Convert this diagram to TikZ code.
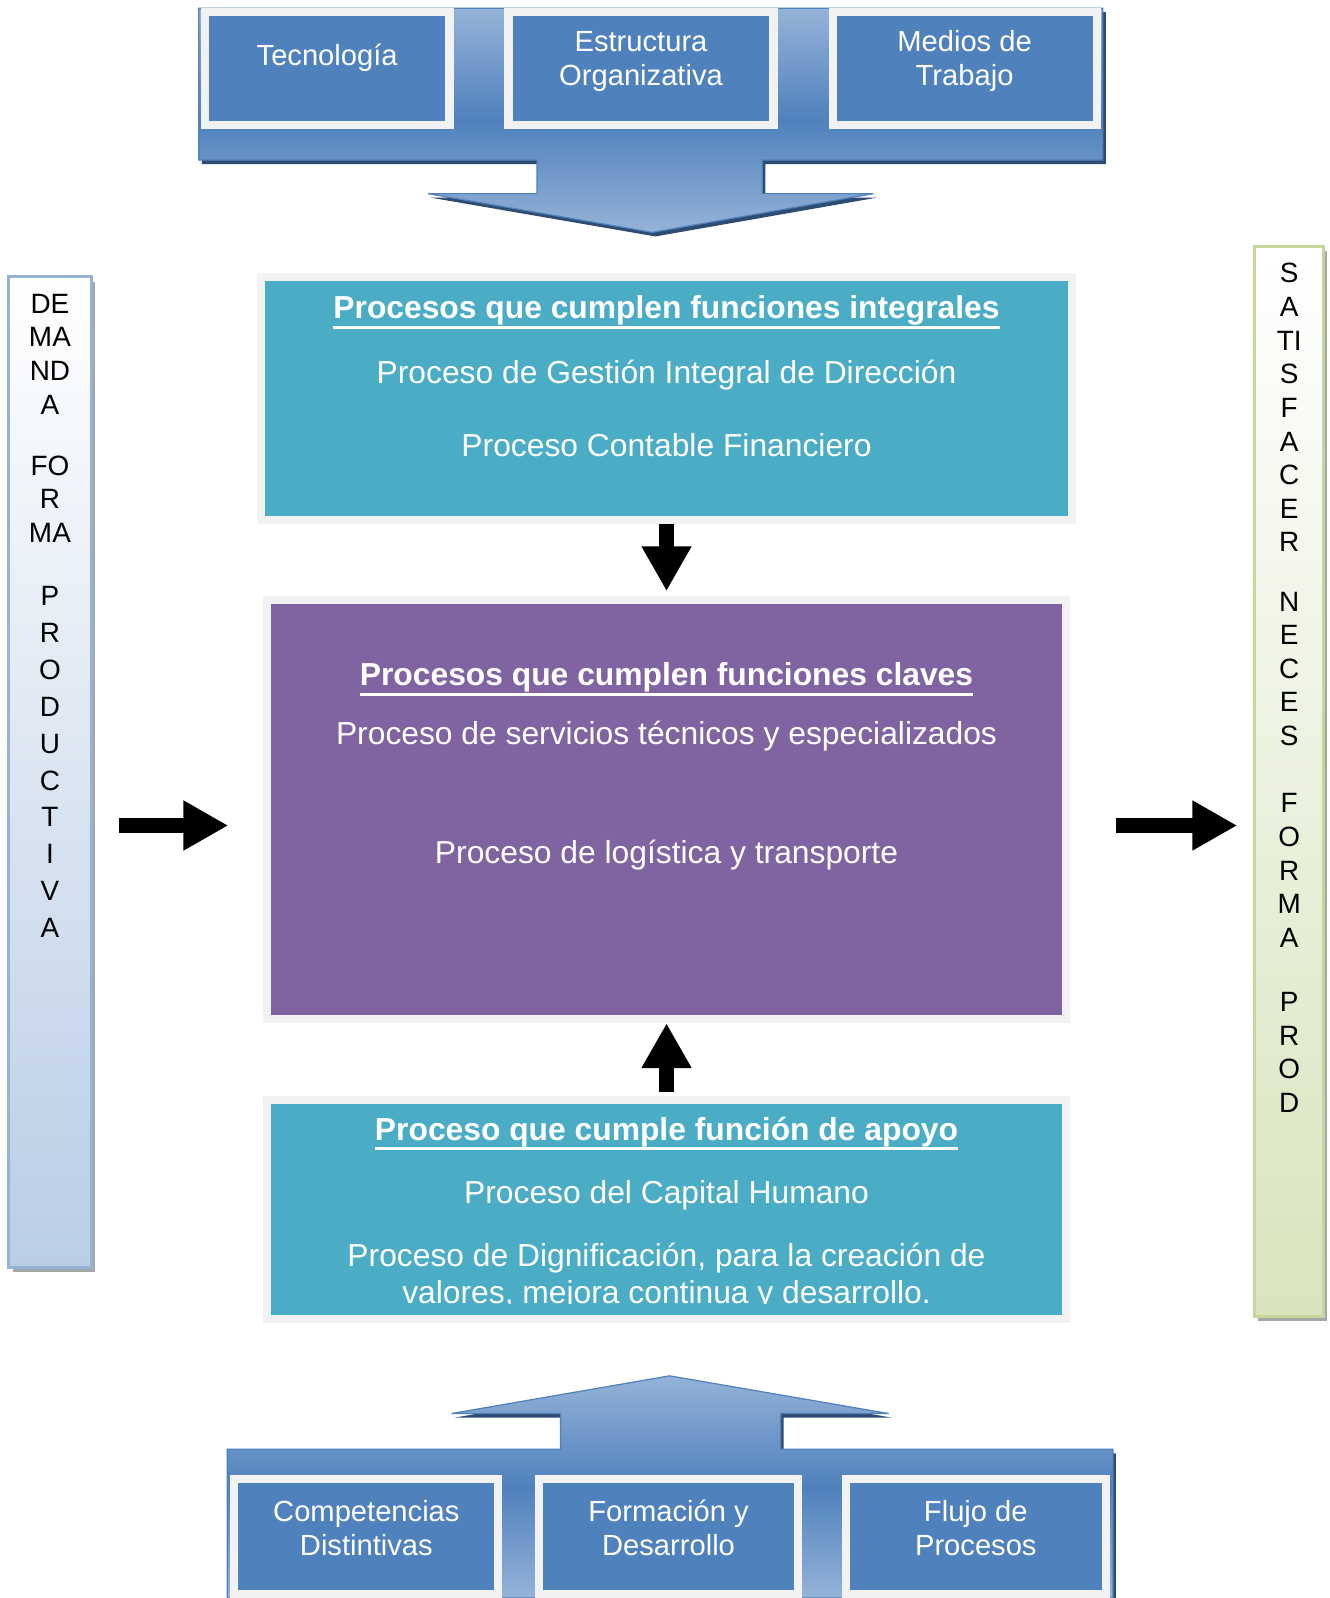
\documentclass[tikz,border=0pt]{standalone}
\usepackage{fontspec}
\setmainfont{Liberation Sans}
\usetikzlibrary{arrows.meta,shadows}

\definecolor{tealbox}{HTML}{4BACC6}
\definecolor{purplebox}{HTML}{8064A2}
\definecolor{bluebox}{HTML}{4F81BD}
\definecolor{bluelight}{HTML}{95B3D7}
\definecolor{bluedark}{HTML}{2E4C72}
\definecolor{framegray}{HTML}{F2F2F2}
\definecolor{barblue}{HTML}{B9CDE5}
\definecolor{barblueline}{HTML}{95B3D7}
\definecolor{bargreen}{HTML}{D7E4BD}
\definecolor{bargreenline}{HTML}{C3D69B}

% underline set a little below the descenders
\newcommand\headul[1]{\setbox0\hbox{#1}%
  \rlap{\rule[-\dimexpr\dp0+1.6pt\relax]{\wd0}{1.4pt}}\box0}

\begin{document}
\begin{tikzpicture}[
  x=0.5pt,y=-0.5pt,
  every node/.style={inner sep=0pt},
  process/.style={fill=#1,draw=framegray,line width=4pt,
    drop shadow={shadow xshift=1pt,shadow yshift=-2pt,fill=black,opacity=.4}},
  factor/.style={fill=bluebox,draw=framegray,line width=4pt,
    drop shadow={shadow xshift=1pt,shadow yshift=-2pt,fill=bluedark,opacity=1}},
  sidebar/.style={line width=1.5pt,
    drop shadow={shadow xshift=2pt,shadow yshift=-2.5pt,fill=black,opacity=.35}},
  head/.style={text=white,anchor=base,font=\fontsize{15.6}{18}\selectfont\bfseries},
  procline/.style={text=white,anchor=base,font=\fontsize{15.6}{18}\selectfont},
  factor text/.style={text=white,align=center,font=\fontsize{14.3}{16.5}\selectfont},
  bar text/.style={anchor=north,align=center,font=\fontsize{13.7}{16.5}\selectfont},
  block arrow/.style={line width=7.5pt,-{Triangle[width=23pt,length=22pt]}}
]
  \fill[white] (0,0) rectangle (1305,1568);
  \useasboundingbox (0,0) rectangle (1305,1568);

  % factors on top, pointing down
  \fill[bluedark,shift={(3,4)}] (195,8) -- (1082,8) -- (1082,157) -- (748,157)
    -- (748,190) -- (857,190) -- (640,228) -- (420,190) -- (527,190)
    -- (527,157) -- (195,157) -- cycle;
  \shadedraw[draw=bluebox,line width=.6pt,top color=bluelight,bottom color=bluelight,
    middle color=bluebox] (195,8) -- (1082,8) -- (1082,157) -- (748,157)
    -- (748,190) -- (857,190) -- (640,228) -- (420,190) -- (527,190)
    -- (527,157) -- (195,157) -- cycle;

  \node[factor,minimum width=120pt,minimum height=55.5pt] (tec) at (321,67.5) {};
  \node[factor,minimum width=130pt,minimum height=55.5pt] (estr) at (629,67.5) {};
  \node[factor,minimum width=129.5pt,minimum height=55.5pt] (medios) at (946.5,67.5) {};
  \node[factor text] (tec-t) at ([yshift=5.5pt]tec.center) {Tecnología};
  \node[factor text] (estr-t) at ([yshift=3.7pt]estr.center) {Estructura\\Organizativa};
  \node[factor text] (medios-t) at ([yshift=3.7pt]medios.center) {Medios de\\Trabajo};

  % factors at the bottom, pointing up
  \fill[bluedark,shift={(3,4)}] (657,1350) -- (872,1387) -- (766,1387) -- (766,1422)
    -- (1092,1422) -- (1092,1568) -- (223,1568) -- (223,1422) -- (550,1422)
    -- (550,1387) -- (443,1387) -- cycle;
  \shadedraw[draw=bluebox,line width=.6pt,top color=bluelight,bottom color=bluelight,
    middle color=bluebox] (657,1350) -- (872,1387) -- (766,1387) -- (766,1422)
    -- (1092,1422) -- (1092,1568) -- (223,1568) -- (223,1422) -- (550,1422)
    -- (550,1387) -- (443,1387) -- cycle;

  \node[factor,minimum width=129.5pt,minimum height=56.5pt] (comp) at (359.5,1507.5) {};
  \node[factor,minimum width=127pt,minimum height=56.5pt] (form) at (656,1507.5) {};
  \node[factor,minimum width=127.5pt,minimum height=56.5pt] (flujo) at (957.5,1507.5) {};
  \node[factor text] (comp-t) at ([yshift=4pt]comp.center) {Competencias\\Distintivas};
  \node[factor text] (form-t) at ([yshift=4pt]form.center) {Formación y\\Desarrollo};
  \node[factor text] (flujo-t) at ([yshift=4pt]flujo.center) {Flujo de\\Procesos};

  % the three groups of processes
  \node[process=tealbox,minimum width=398pt,minimum height=119pt] (integ) at (654,391) {};
  \node[process=purplebox,minimum width=392pt,minimum height=205.5pt] (claves) at (654,794.5) {};
  \node[process=tealbox,minimum width=392pt,minimum height=107.5pt] (apoyo) at (654,1186.5) {};

  \node[head] (integ-h) at (654,313) {\headul{Procesos que cumplen funciones integrales}};
  \node[procline] (integ-1) at (654,376) {Proceso de Gestión Integral de Dirección};
  \node[procline] (integ-2) at (654,448) {Proceso Contable Financiero};

  \node[head] (claves-h) at (654,673) {\headul{Procesos que cumplen funciones claves}};
  \node[procline] (claves-1) at (654,731) {Proceso de servicios técnicos y especializados};
  \node[procline] (claves-2) at (654,847) {Proceso de logística y transporte};

  \node[head] (apoyo-h) at (654,1119) {\headul{Proceso que cumple función de apoyo}};
  \node[procline] (apoyo-1) at (654,1181) {Proceso del Capital Humano};
  \begin{scope}
    \clip (262,1079) rectangle (1046,1279.5);
    \node[procline] (apoyo-2) at (654,1243) {Proceso de Dignificación, para la creación de};
    \node[procline] (apoyo-3) at (654,1279) {valores, mejora continua y desarrollo.};
  \end{scope}

  % demand and satisfaction bars
  \node[sidebar,draw=barblueline,top color=white,bottom color=barblue,
    minimum width=40.5pt,minimum height=486pt] (demanda) at (49,757.5) {};
  \node[sidebar,draw=bargreenline,top color=white,bottom color=bargreen,
    minimum width=34pt,minimum height=525pt] (satisf) at (1264.5,766.5) {};

  \node[bar text] (demanda-t) at (49,288)
    {DE\\MA\\ND\\A\\[13.5pt]FO\\R\\MA\\[14.5pt]P\\[1.6pt]R\\[1.6pt]O\\[1.6pt]D\\[1.6pt]U%
     \\[1.6pt]C\\[1.6pt]T\\[1.6pt]I\\[1.6pt]V\\[1.6pt]A};
  \node[bar text] (satisf-t) at (1265,258)
    {S\\A\\TI\\S\\F\\A\\C\\E\\R\\[12.5pt]N\\E\\C\\E\\S\\[16.5pt]F\\O\\R\\M\\A%
     \\[15pt]P\\R\\O\\D};

  % black arrows
  \coordinate (mid) at (654,810);
  \draw[block arrow,shorten >=2.5pt] (integ.south) -- (claves.north);
  \draw[block arrow,shorten <=2pt] (apoyo.north) -- (claves.south);
  \draw[block arrow,shorten <=13pt,shorten >=17pt] (demanda.east |- mid) -- (claves.west |- mid);
  \draw[block arrow,shorten <=22.5pt,shorten >=7.5pt] (claves.east |- mid) -- (satisf.west |- mid);
\end{tikzpicture}
\end{document}
